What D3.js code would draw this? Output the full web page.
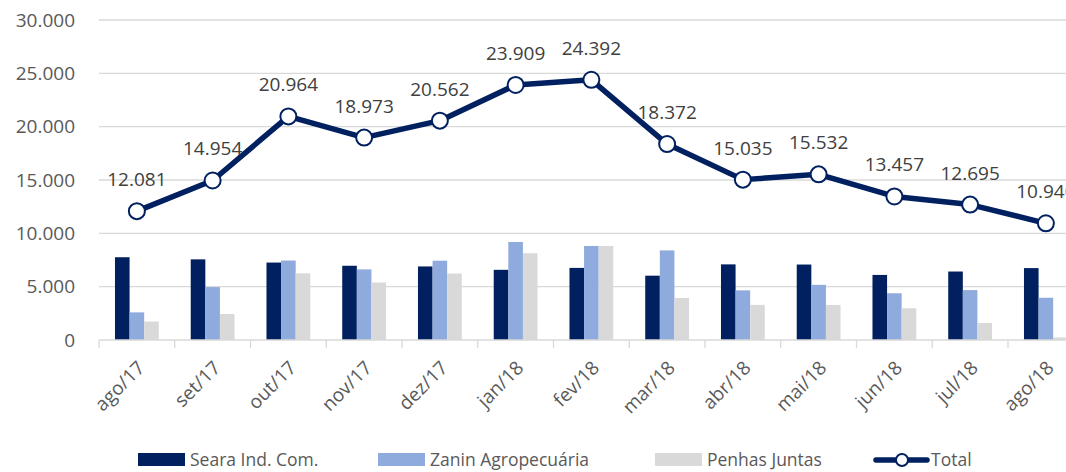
<!DOCTYPE html>
<html>
<head>
<meta charset="utf-8">
<script src="https://cdn.jsdelivr.net/npm/d3@7"></script>
<style>
  body { margin: 0; background: #fff; }
  svg { display: block; font-family: "Open Sans", "Noto Sans", sans-serif; }
</style>
</head>
<body>
<svg id="chart" width="1066" height="472"></svg>
<script>
const categories = ["ago/17","set/17","out/17","nov/17","dez/17","jan/18","fev/18","mar/18","abr/18","mai/18","jun/18","jul/18","ago/18"];
const seara  = [7760, 7560, 7260, 6960, 6895, 6580, 6760, 6030, 7090, 7075, 6100, 6420, 6740];
const zanin  = [2590, 4960, 7450, 6620, 7435, 9190, 8816, 8400, 4654, 5170, 4380, 4680, 3960];
const penhas = [1731, 2434, 6254, 5393, 6232, 8139, 8816, 3942, 3291, 3287, 2977, 1595, 240];
const total  = [12081, 14954, 20964, 18973, 20562, 23909, 24392, 18372, 15035, 15532, 13457, 12695, 10940];
const yTicks = [0, 5000, 10000, 15000, 20000, 25000, 30000];
const seriesNames = ["Seara Ind. Com.", "Zanin Agropecuária", "Penhas Juntas", "Total"];
const colors = ["#002060", "#8faadc", "#d9d9d9"];
const lineColor = "#002060";

const locale = d3.formatLocale({decimal: ",", thousands: ".", grouping: [3], currency: ["R$", ""]});
const fmt = locale.format(",d");

const svg = d3.select("#chart");
const left = 99, bandW = 75.75;
const x = d3.scaleBand().domain(categories).range([left, left + bandW * categories.length]).padding(0);
const y = d3.scaleLinear().domain([0, 30000]).range([340, 20]);
const barW = 14.6;
const xs = d3.scaleBand().domain([0,1,2]).range([-barW*1.5, barW*1.5]).padding(0);

// gridlines
svg.append("g").selectAll("line").data(yTicks.filter(d => d > 0)).join("line")
  .attr("x1", left).attr("x2", 1066)
  .attr("y1", d => y(d)).attr("y2", d => y(d))
  .attr("stroke", "#d9d9d9").attr("stroke-width", 1.3);

// y labels
svg.append("g").selectAll("text").data(yTicks).join("text")
  .attr("x", 75).attr("y", d => y(d)).attr("dy", "0.35em")
  .attr("text-anchor", "end").attr("font-size", 19).attr("fill", "#595959")
  .text(d => fmt(d));

// bars
const series = [seara, zanin, penhas];
series.forEach((vals, si) => {
  svg.append("g").selectAll("rect").data(vals).join("rect")
    .attr("x", (d, i) => x(categories[i]) + x.bandwidth()/2 + xs(si))
    .attr("width", xs.bandwidth())
    .attr("y", d => y(d))
    .attr("height", d => y(0) - y(d))
    .attr("fill", colors[si]);
});

// baseline axis
svg.append("line").attr("x1", left).attr("x2", 1066).attr("y1", y(0)).attr("y2", y(0))
  .attr("stroke", "#d9d9d9").attr("stroke-width", 1.3);
svg.append("g").selectAll("line").data(categories).join("line")
  .attr("x1", d => x(d)).attr("x2", d => x(d))
  .attr("y1", y(0)).attr("y2", y(0) + 8)
  .attr("stroke", "#d9d9d9").attr("stroke-width", 1.3);

// x labels
svg.append("g").selectAll("text").data(categories).join("text")
  .attr("transform", d => `translate(${x(d) + x.bandwidth()/2 + 9},${369}) rotate(-45)`)
  .attr("text-anchor", "end").attr("font-size", 19).attr("fill", "#595959")
  .text(d => d);

// total line
const cx = (d, i) => x(categories[i]) + x.bandwidth()/2;
const line = d3.line().x(cx).y(d => y(d));
svg.append("path").datum(total).attr("d", line)
  .attr("fill", "none").attr("stroke", lineColor).attr("stroke-width", 5.5)
  .attr("stroke-linejoin", "round");
svg.append("g").selectAll("circle").data(total).join("circle")
  .attr("cx", cx).attr("cy", d => y(d)).attr("r", 8)
  .attr("fill", "#fff").attr("stroke", lineColor).attr("stroke-width", 2);
svg.append("g").selectAll("text").data(total).join("text")
  .attr("x", cx).attr("y", d => y(d) - 25)
  .attr("text-anchor", "middle").attr("font-size", 19).attr("fill", "#404040")
  .text(d => fmt(d));

// legend
const legend = [
  {name: seriesNames[0], x: 138, type: "rect", color: colors[0]},
  {name: seriesNames[1], x: 378, type: "rect", color: colors[1]},
  {name: seriesNames[2], x: 655, type: "rect", color: colors[2]},
  {name: seriesNames[3], x: 876, type: "line", color: lineColor}
];
const lg = svg.append("g");
legend.forEach(l => {
  if (l.type === "rect") {
    lg.append("rect").attr("x", l.x).attr("y", 453).attr("width", 47).attr("height", 13).attr("fill", l.color);
  } else {
    lg.append("line").attr("x1", l.x).attr("x2", l.x + 51).attr("y1", 460).attr("y2", 460)
      .attr("stroke", l.color).attr("stroke-width", 5.5).attr("stroke-linecap", "round");
    lg.append("circle").attr("cx", l.x + 26).attr("cy", 460).attr("r", 6)
      .attr("fill", "#fff").attr("stroke", l.color).attr("stroke-width", 2);
  }
  lg.append("text").attr("x", l.x + (l.type === "rect" ? 52 : 55)).attr("y", 466)
    .attr("font-size", 17.5).attr("fill", "#595959").text(l.name);
});
</script>
</body>
</html>
